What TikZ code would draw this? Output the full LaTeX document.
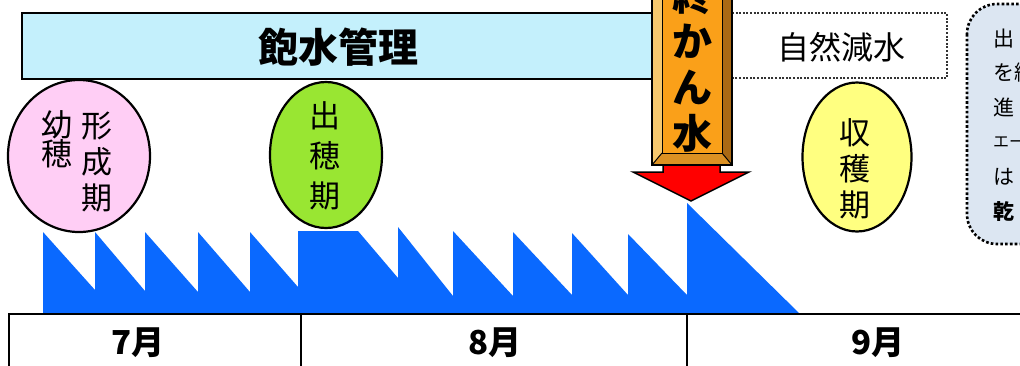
\documentclass[tikz,border=0pt]{standalone}
\usepackage{fontspec}
\newfontfamily\jp{Noto Sans CJK JP}
\usetikzlibrary{shapes.geometric}
\definecolor{barcyan}{RGB}{196,240,252}
\definecolor{pinkfill}{RGB}{255,206,245}
\definecolor{greenfill}{RGB}{153,230,50}
\definecolor{yellowfill}{RGB}{255,255,128}
\definecolor{notefill}{RGB}{220,230,242}
\definecolor{waterblue}{RGB}{10,105,255}
\definecolor{pillarface}{RGB}{250,160,25}
\definecolor{pillarlight}{RGB}{246,200,110}
\definecolor{pillardark}{RGB}{170,105,20}
\definecolor{pillarbottom}{RGB}{220,145,35}
\tikzset{
  stageoval/.style={ellipse, draw=black, line width=2.2pt, inner sep=0pt},
  coltext/.style={font=\jp\fontsize{31}{#1}\selectfont, align=center, inner sep=0pt},
  notetext/.style={font=\jp\fontsize{21}{24}\selectfont, anchor=west, inner sep=0pt},
  monthtext/.style={font=\jp\bfseries\fontsize{33}{36}\selectfont, inner sep=0pt},
  dotline/.style={line width=2pt, dash pattern=on 2pt off 1.6pt},
  notedots/.style={line width=2.6pt, dash pattern=on 2.6pt off 2.2pt},
}
\begin{document}
\begin{tikzpicture}[x=1pt,y=-1pt]
\useasboundingbox (0,0) rectangle (1020,365);
\clip (0,0) rectangle (1020,365);
\fill[white] (0,0) rectangle (1020,365);

% top bar
\draw[fill=barcyan, line width=2.5pt] (22,13) rectangle (653,79);
\node[font=\jp\bfseries\fontsize{40}{44}\selectfont, inner sep=0pt] (hosui) at (338,47) {飽水管理};

% natural decrease box
\draw[dotline, black!80] (732,13) -- (947,13) -- (947,78) -- (732,78);
\node[font=\jp\fontsize{32}{36}\selectfont, inner sep=0pt] (shizen) at (841,47) {自然減水};

% note box
\draw[notedots, fill=notefill, rounded corners=30pt] (967,4) rectangle (1080,244);
\node[notetext] (n1) at (993,39) {出};
\node[notetext] (n2) at (993,73) {を継};
\node[notetext] (n3) at (993,107) {進};
\node[notetext, font=\jp\fontsize{16}{20}\selectfont] (n4) at (993,142) {エー};
\node[notetext] (n5) at (993,177) {は};
\node[notetext, font=\jp\bfseries\fontsize{21}{24}\selectfont] (n6) at (993,212) {乾};

% water level
\fill[waterblue] (43,313) -- (43,232) -- (95,290) -- (95,232) -- (145,291) -- (145,232)
  -- (198,292) -- (198,232) -- (250,292) -- (250,232) -- (298,287) -- (298,231)
  -- (358,231) -- (398,278) -- (398,227) -- (453,296) -- (453,231) -- (513,296)
  -- (513,232) -- (572,295) -- (572,233) -- (628,295) -- (628,234) -- (687,295)
  -- (687,203) -- (800,314) -- cycle;

% timeline
\coordinate (tl) at (9,314);
\coordinate (tr) at (1020,314);
\coordinate (m1) at (9,366);
\coordinate (d1) at (301,314);
\coordinate (d1b) at (301,366);
\coordinate (d2) at (687,314);
\coordinate (d2b) at (687,366);
\draw[line width=2pt] (m1) -- (tl) -- (tr);
\draw[line width=2pt] (d1) -- (d1b);
\draw[line width=2pt] (d2) -- (d2b);
\node[monthtext] (jul) at (138,343) {7月};
\node[monthtext] (aug) at (495,343) {8月};
\node[monthtext] (sep) at (878,343) {9月};

% stage ovals
\node[stageoval, fill=pinkfill, minimum width=142pt, minimum height=152pt] (pink) at (79,156) {};
\node[coltext=29] (pinkL) at (57,139) {幼\\穂};
\node[coltext=36] (pinkR) at (97,162) {形\\成\\期};
\node[stageoval, fill=greenfill, minimum width=112pt, minimum height=146pt] (green) at (326,155) {};
\node[coltext=40] (greenT) at (325,156) {出\\穂\\期};
\node[stageoval, fill=yellowfill, minimum width=109pt, minimum height=149pt] (yellow) at (857,157) {};
\node[coltext=36] (yellowT) at (855,169) {収\\穫\\期};

% red arrow
\draw[fill=red, line width=1.5pt, line join=miter] (663,158) -- (663,172) -- (633,172) -- (691,201)
  -- (749,172) -- (720,172) -- (720,158) -- cycle;

% pillar
\fill[pillarlight] (652,-5) -- (662,-5) -- (662,153) -- (652,165) -- cycle;
\fill[pillardark] (732,-5) -- (722,-5) -- (722,153) -- (732,165) -- cycle;
\fill[pillarbottom] (652,165) -- (662,153) -- (722,153) -- (732,165) -- cycle;
\draw[fill=pillarface, line width=1pt] (662,-5) rectangle (722,153);
\draw[line width=1pt] (652,165) -- (662,153) (732,165) -- (722,153);
\draw[line width=2pt] (652,-5) rectangle (732,165);
\node[font=\jp\bfseries\fontsize{40}{46}\selectfont, align=center, inner sep=0pt] (kansui) at (692,64) {終\\か\\ん\\水};
\end{tikzpicture}
\end{document}
